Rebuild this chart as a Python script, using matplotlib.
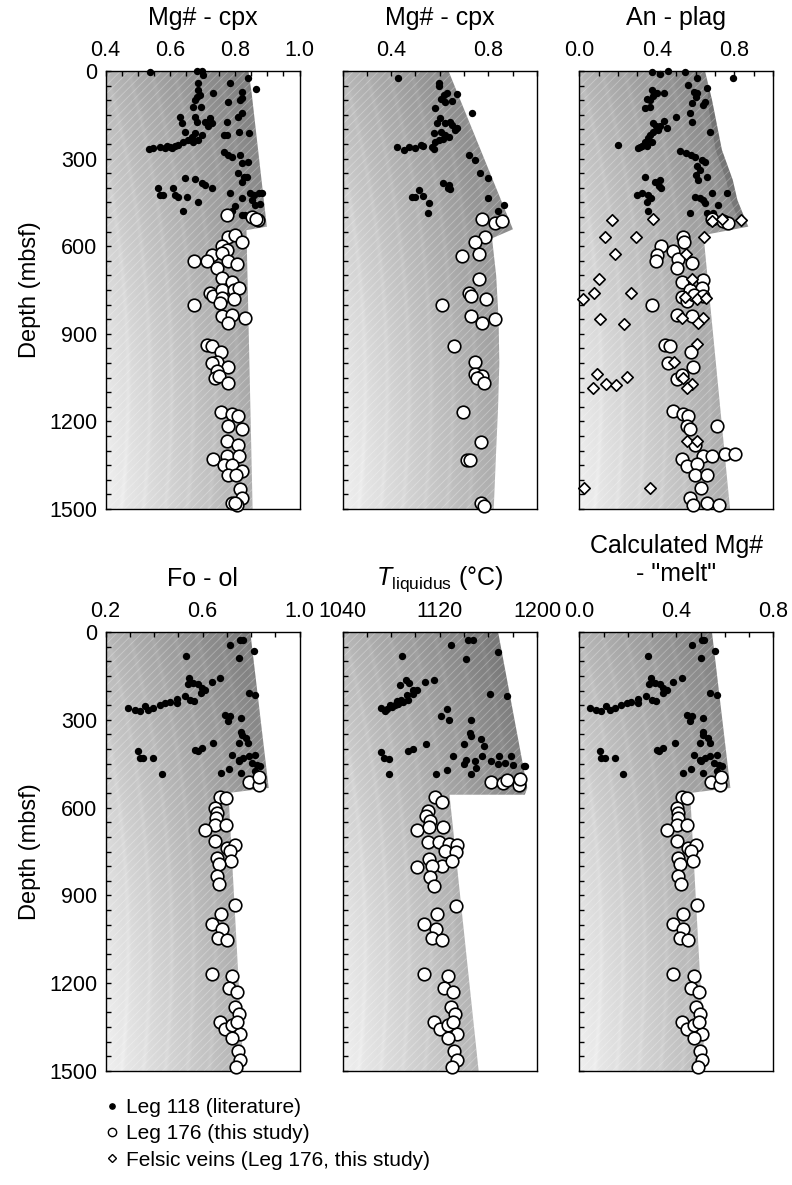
import numpy as np
import matplotlib.pyplot as plt
from matplotlib.patches import Polygon
from matplotlib.lines import Line2D
from matplotlib.ticker import FixedLocator, MultipleLocator

plt.rcParams['font.family'] = ['Liberation Sans', 'DejaVu Sans']
plt.rcParams['mathtext.fontset'] = 'custom'
plt.rcParams['mathtext.rm'] = 'Liberation Sans'
plt.rcParams['mathtext.it'] = 'Liberation Sans:italic'
plt.rcParams['hatch.linewidth'] = 0.6

# ---- data: (value, depth in mbsf) ----
depth_ticks = [0, 300, 600, 900, 1200, 1500]

# Mg# cpx, panel 1
cpx1_leg118 = [(0.537,5),(0.682,0),(0.697,0),(0.703,14),(0.840,25),(0.867,63),(0.785,40),(0.687,42),(0.687,65),
               (0.682,88),(0.677,99),(0.692,82),(0.671,122),(0.695,122),(0.734,76),(0.822,71),(0.822,94),(0.817,99),
               (0.780,107),(0.822,145),(0.811,159),(0.630,159),(0.637,179),(0.677,156),(0.682,173),(0.708,173),
               (0.723,162),(0.728,179),(0.718,190),(0.775,173),(0.813,208),(0.845,213),(0.765,218),(0.775,219),
               (0.646,208),(0.666,225),(0.677,213),(0.697,219),(0.687,236),(0.671,242),(0.656,236),(0.640,242),
               (0.625,253),(0.615,257),(0.599,261),(0.583,265),(0.568,261),(0.547,265),(0.534,268),(0.590,258),
               (0.605,262),(0.765,276),(0.780,287),(0.791,293),(0.817,287),(0.842,310),(0.822,316),(0.811,350),
               (0.827,362),(0.837,362),(0.822,379),(0.646,367),(0.677,371),(0.697,384),(0.708,390),(0.728,399),
               (0.563,402),(0.568,424),(0.578,424),(0.609,402),(0.615,424),(0.625,430),(0.651,430),(0.687,447),
               (0.640,481),(0.785,419),(0.848,419),(0.858,424),(0.874,419),(0.884,419),(0.853,441),(0.863,459),
               (0.879,455),(0.822,436),(0.801,464),(0.791,481),(0.822,493),(0.832,493)]
cpx1_leg176 = [(0.775,493),(0.853,499),(0.872,510),(0.865,508),(0.780,567),(0.801,561),(0.822,584),(0.760,601),
               (0.775,613),(0.728,630),(0.760,624),(0.675,652),(0.713,652),(0.744,675),(0.780,652),(0.806,660),
               (0.760,709),(0.791,721),(0.723,761),(0.734,772),(0.760,749),(0.796,749),(0.813,744),(0.760,778),
               (0.796,781),(0.675,801),(0.755,795),(0.760,838),(0.791,835),(0.830,846),(0.778,864),(0.713,938),
               (0.728,943),(0.758,964),(0.744,995),(0.778,1012),(0.728,1000),(0.744,1029),(0.739,1052),
               (0.751,1046),(0.778,1067),(0.758,1168),(0.791,1174),(0.809,1183),(0.780,1217),(0.822,1226),
               (0.775,1268),(0.809,1280),(0.734,1329),(0.775,1320),(0.813,1317),(0.765,1348),(0.791,1348),
               (0.822,1371),(0.780,1383),(0.803,1383),(0.817,1432),(0.822,1462),(0.791,1479),(0.806,1485),
               (0.801,1479)]
cpx1_field = [(0.842,0),(0.852,76),(0.899,533),(0.836,545),(0.855,1500)]

# Mg# cpx, panel 2
cpx2_leg118 = [(0.428,25),(0.595,42),(0.598,51),(0.616,82),(0.606,97),(0.630,76),(0.650,102),(0.671,80),
               (0.623,105),(0.732,145),(0.581,128),(0.599,162),(0.588,179),(0.623,177),(0.643,173),(0.650,185),
               (0.664,202),(0.671,196),(0.575,211),(0.606,208),(0.623,219),(0.636,225),(0.595,236),(0.581,242),
               (0.568,259),(0.575,268),(0.612,234),(0.424,261),(0.451,270),(0.472,261),(0.499,265),(0.524,253),
               (0.533,257),(0.719,287),(0.743,305),(0.767,350),(0.798,367),(0.612,382),(0.636,390),(0.643,405),
               (0.634,402),(0.516,407),(0.485,430),(0.499,432),(0.533,428),(0.554,451),(0.551,485),(0.798,436),
               (0.863,459),(0.839,478)]
cpx2_leg176 = [(0.774,508),(0.826,521),(0.856,513),(0.785,569),(0.743,585),(0.691,633),(0.763,627),(0.763,713),
               (0.719,761),(0.730,772),(0.790,781),(0.609,803),(0.730,838),(0.774,864),(0.828,850),(0.658,941),
               (0.746,997),(0.743,1037),(0.774,1044),(0.753,1052),(0.780,1069),(0.694,1169),(0.769,1272),
               (0.712,1333),(0.726,1333),(0.769,1479),(0.780,1489)]
cpx2_field = [(0.636,0),(0.901,542),(0.815,573),(0.832,700),(0.842,850),(0.845,1000),(0.840,1150),
              (0.832,1300),(0.822,1500)]

# An plag
an_leg118 = [(0.373,5),(0.416,10),(0.455,0),(0.545,5),(0.794,25),(0.605,25),(0.562,48),(0.656,59),(0.591,71),
             (0.601,88),(0.605,76),(0.648,105),(0.636,116),(0.579,111),(0.570,145),(0.579,173),(0.674,208),
             (0.373,65),(0.378,86),(0.364,99),(0.351,97),(0.390,76),(0.402,74),(0.436,76),(0.338,125),(0.364,122),
             (0.498,159),(0.436,170),(0.381,179),(0.395,190),(0.416,190),(0.454,196),(0.407,202),(0.381,208),
             (0.364,219),(0.356,230),(0.338,242),(0.321,257),(0.304,265),(0.313,261),(0.347,257),(0.373,242),
             (0.198,253),(0.519,273),(0.550,282),(0.574,287),(0.596,293),(0.631,305),(0.648,310),(0.605,327),
             (0.622,339),(0.601,356),(0.656,362),(0.610,373),(0.338,362),(0.390,379),(0.416,373),(0.412,394),
             (0.419,402),(0.296,424),(0.321,419),(0.356,424),(0.368,436),(0.347,447),(0.596,430),(0.622,436),
             (0.639,441),(0.648,453),(0.682,419),(0.763,419),(0.716,459),(0.356,481),(0.570,485),(0.656,487),
             (0.691,487)]
an_leg176 = [(0.682,508),(0.742,513),(0.768,521),(0.536,567),(0.541,584),(0.419,601),(0.481,615),(0.402,630),
             (0.395,650),(0.510,644),(0.579,658),(0.502,675),(0.527,724),(0.639,715),(0.631,744),(0.570,749),
             (0.527,775),(0.553,789),(0.591,767),(0.639,772),(0.373,801),(0.502,835),(0.579,838),(0.441,938),
             (0.467,941),(0.574,964),(0.457,1000),(0.588,1012),(0.502,1055),(0.527,1040),(0.485,1166),
             (0.536,1174),(0.562,1183),(0.557,1215),(0.570,1226),(0.708,1217),(0.596,1280),(0.639,1317),
             (0.682,1317),(0.751,1311),(0.802,1311),(0.527,1329),(0.557,1354),(0.608,1345),(0.596,1383),
             (0.656,1383),(0.625,1428),(0.570,1462),(0.588,1485),(0.660,1479),(0.722,1485)]
an_veins = [(0.167,510),(0.378,508),(0.132,569),(0.292,569),(0.643,569),(0.184,627),(0.550,627),(0.103,713),
            (0.076,761),(0.265,761),(0.021,781),(0.579,713),(0.545,775),(0.605,781),(0.653,779),(0.107,850),
            (0.230,866),(0.527,846),(0.639,846),(0.613,864),(0.605,934),(0.488,998),(0.089,1037),(0.247,1048),
            (0.137,1071),(0.189,1075),(0.069,1086),(0.533,1052),(0.579,1071),(0.553,1086),(0.553,1268),
            (0.608,1268),(0.024,1428),(0.364,1428),(0.682,512),(0.734,508),(0.832,510)]
an_field = [(0.648,0),(0.684,99),(0.735,270),(0.791,373),(0.815,442),(0.871,533),(0.640,562),(0.777,1500)]
an_band = [(0.670,60),(0.684,99),(0.735,270),(0.791,373),(0.815,442),(0.850,500),
           (0.815,500),(0.780,442),(0.757,373),(0.703,270),(0.660,99)]

# Fo ol
fo_leg118 = [(0.714,43),(0.755,26),(0.765,26),(0.811,66),(0.751,89),(0.534,83),(0.544,157),(0.539,178),
             (0.562,174),(0.583,178),(0.597,191),(0.610,197),(0.594,209),(0.638,171),(0.673,157),(0.790,209),
             (0.818,214),(0.293,258),(0.320,266),(0.341,271),(0.362,254),(0.375,266),(0.396,258),(0.424,248),
             (0.445,243),(0.465,239),(0.493,228),(0.527,217),(0.548,231),(0.566,235),(0.493,243),(0.693,283),
             (0.707,303),(0.714,288),(0.760,294),(0.760,340),(0.762,351),(0.779,362),(0.749,380),(0.787,380),
             (0.645,380),(0.569,402),(0.597,397),(0.580,406),(0.334,406),(0.341,431),(0.355,429),(0.396,431),
             (0.431,484),(0.721,419),(0.749,437),(0.769,431),(0.790,425),(0.818,419),(0.751,442),(0.804,448),
             (0.825,454),(0.838,459),(0.677,482),(0.710,468),(0.760,482),(0.818,476)]
fo_leg176 = [(0.793,511),(0.831,522),(0.834,497),(0.673,565),(0.696,568),(0.652,602),(0.659,619),(0.655,636),
             (0.652,661),(0.696,661),(0.610,676),(0.652,713),(0.700,739),(0.732,727),(0.714,748),(0.659,773),
             (0.718,784),(0.667,793),(0.659,835),(0.669,862),(0.735,932),(0.677,962),(0.638,997),(0.679,1014),
             (0.665,1046),(0.700,1052),(0.638,1169),(0.721,1174),(0.710,1215),(0.742,1229),(0.732,1280),
             (0.749,1306),(0.673,1331),(0.693,1356),(0.721,1343),(0.756,1375),(0.721,1386),(0.746,1432),
             (0.756,1462),(0.738,1485),(0.742,1331)]
fo_field = [(0.797,0),(0.873,533),(0.707,550),(0.769,1500)]

# T liquidus
tl_leg118 = [(1129,43),(1143.5,28),(1147,28),(1168,70),(1142,92),(1089,83),(1092,163),(1087,180),(1095,174),
             (1098,199),(1101.5,197),(1108,172),(1115,163),(1161,211),(1175,218),(1072,260),(1075,271),
             (1079,248),(1084.5,237),(1088.5,231),(1094,231),(1098,211),(1093,214),(1077,262),(1081,255),
             (1083,250),(1086,245),(1090,240),(1126,263),(1121,288),(1127.5,302),(1146,300),(1145,345),
             (1146,357),(1154,366),(1156,391),(1140,382),(1109,382),(1094,405),(1098,400),(1072,410),(1074,431),
             (1078,434),(1131,423),(1141.5,437),(1140,450),(1149,442),(1154.5,425),(1162,442),(1169,425),
             (1174,448),(1179,425),(1180,454),(1189,459),(1190,459),(1078,484),(1117,486),(1126,473),(1146,486),
             (1149.5,465),(1168,450)]
tl_leg176 = [(1162,514),(1172,516),(1175,505),(1185,522),(1186,503),(1116,564),(1121.5,582),(1110.5,610),
             (1109,630),(1112,647),(1101.5,676),(1111,665),(1123,665),(1110,716),(1119,719),(1128,725),(1134,728),
             (1124,747),(1133,750),(1111,776),(1122,798),(1130,784),(1101,804),(1114,799),(1112,838),(1115,867),
             (1118,963),(1133,935),(1107.3,997),(1116.7,1014),(1113.5,1046),(1121.5,1052),(1107.3,1169),
             (1126.4,1174),(1123.8,1215),(1131.2,1229),(1128.9,1280),(1132.8,1306),(1115.3,1331),(1119.9,1356),
             (1126.4,1343),(1134.4,1375),(1126.4,1386),(1132.1,1432),(1134.4,1462),(1130.3,1485),(1131.2,1331)]
tl_field = [(1168,0),(1192,533),(1190,556),(1128,556),(1152,1500)]

# calculated melt Mg#
melt_leg118 = [(0.464,43),(0.505,26),(0.515,26),(0.561,66),(0.501,89),(0.284,83),(0.294,157),(0.289,178),
               (0.312,174),(0.333,178),(0.347,191),(0.360,197),(0.344,209),(0.388,171),(0.423,157),(0.540,209),
               (0.568,214),(0.043,258),(0.070,266),(0.091,271),(0.112,254),(0.125,266),(0.146,258),(0.174,248),
               (0.195,243),(0.215,239),(0.243,228),(0.277,217),(0.298,231),(0.316,235),(0.243,243),(0.443,283),
               (0.457,303),(0.464,288),(0.510,294),(0.510,340),(0.512,351),(0.529,362),(0.499,380),(0.537,380),
               (0.395,380),(0.319,402),(0.347,397),(0.330,406),(0.084,406),(0.091,431),(0.105,429),(0.146,431),
               (0.181,484),(0.471,419),(0.499,437),(0.519,431),(0.540,425),(0.568,419),(0.501,442),(0.554,448),
               (0.575,454),(0.588,459),(0.427,482),(0.460,468),(0.510,482),(0.568,476)]
melt_leg176 = [(0.543,511),(0.581,522),(0.584,497),(0.423,565),(0.446,568),(0.402,602),(0.409,619),(0.405,636),
               (0.402,661),(0.446,661),(0.360,676),(0.402,713),(0.450,739),(0.482,727),(0.461,748),(0.409,773),
               (0.468,784),(0.417,793),(0.409,835),(0.419,862),(0.485,932),(0.427,962),(0.388,997),(0.429,1014),
               (0.415,1046),(0.450,1052),(0.388,1169),(0.471,1174),(0.460,1215),(0.492,1229),(0.482,1280),
               (0.499,1306),(0.423,1331),(0.443,1356),(0.471,1343),(0.506,1375),(0.471,1386),(0.496,1432),
               (0.506,1462),(0.488,1485),(0.492,1331)]
melt_field = [(0.547,0),(0.623,533),(0.457,550),(0.519,1500)]

# ---- layout (pixel boxes: left, top, right, bottom) ----
W, H = 792, 1185
fig = plt.figure(figsize=(W / 100, H / 100), dpi=100)


def add_panel(l, t, r, b):
    return fig.add_axes([l / W, 1 - b / H, (r - l) / W, (b - t) / H])


def shade(ax, field, band=None):
    x0, x1 = ax.get_xlim()
    verts = [(x0, 0)] + field + [(x0, 1500)]
    clip = Polygon(verts, closed=True, facecolor='none', edgecolor='none')
    ax.add_patch(clip)
    u = np.linspace(0, 1, 240)[None, :]
    v = np.linspace(0, 1, 520)[:, None]
    r = np.hypot(u * 195 + 1100, (v - 0.72) * 438) - 1100
    b = 0.95 - 0.33 * r / 195 - 0.16 * (1 - v)
    b = b + 0.025 * np.cos(np.pi * r / 22) ** 20
    img = ax.imshow(b, cmap='gray', vmin=0, vmax=1, extent=(x0, x1, 1500, 0),
                    aspect='auto', interpolation='bilinear', zorder=0.5)
    img.set_clip_path(clip)
    if band is not None:
        ax.add_patch(Polygon(band, closed=True, facecolor='black', alpha=0.15, lw=0, zorder=0.55))
    ax.add_patch(Polygon(verts, closed=True, facecolor='none', edgecolor=(1, 1, 1, 0.30),
                         lw=0, hatch='////', zorder=0.6))


def style(ax, xlim, major, minor, labels_y):
    ax.set_xlim(*xlim)
    ax.set_ylim(1500, 0)
    ax.xaxis.tick_top()
    ax.xaxis.set_major_locator(FixedLocator(major))
    ax.xaxis.set_minor_locator(MultipleLocator(minor))
    ax.yaxis.set_major_locator(FixedLocator(depth_ticks))
    ax.yaxis.set_minor_locator(MultipleLocator(50))
    ax.tick_params(axis='x', which='both', direction='in', top=True, bottom=False,
                   length=3.5, width=1, labelsize=15.5, pad=7)
    ax.tick_params(axis='y', which='both', direction='in', left=True, right=False,
                   length=3.5, width=1, labelsize=15.5, pad=6, labelleft=labels_y)
    for s in ax.spines.values():
        s.set_linewidth(1.0)


def plot_points(ax, dots, circles, diamonds=None):
    x, d = np.array(dots).T
    ax.scatter(x, d, s=28, c='black', lw=0, zorder=3, clip_on=False)
    x, d = np.array(circles).T
    ax.scatter(x, d, s=82, facecolors='white', edgecolors='black', lw=1.2, zorder=4, clip_on=False)
    if diamonds is not None:
        x, d = np.array(diamonds).T
        ax.scatter(x, d, s=34, marker='D', facecolors='white', edgecolors='black', lw=1.2,
                   zorder=5, clip_on=False)


cols = [(105.5, 299.5), (342.5, 537), (579.3, 773.3)]
rows = [(71, 509), (632, 1071)]

panels = [
    ((0.4, 1.0), [0.4, 0.6, 0.8, 1.0], 0.05, 'Mg# - cpx', cpx1_field, None, cpx1_leg118, cpx1_leg176, None),
    ((0.2, 1.0), [0.4, 0.8], 0.1, 'Mg# - cpx', cpx2_field, None, cpx2_leg118, cpx2_leg176, None),
    ((0.0, 1.0), [0.0, 0.4, 0.8], 0.1, 'An - plag', an_field, an_band, an_leg118, an_leg176, an_veins),
    ((0.2, 1.0), [0.2, 0.6, 1.0], 0.1, 'Fo - ol', fo_field, None, fo_leg118, fo_leg176, None),
    ((1040, 1200), [1040, 1120, 1200], 20, r'$T_{\mathrm{liquidus}}$ ($\degree$C)', tl_field, None,
     tl_leg118, tl_leg176, None),
    ((0.0, 0.8), [0.0, 0.4, 0.8], 0.1, 'Calculated Mg#\n- "melt"', melt_field, None,
     melt_leg118, melt_leg176, None),
]

for i, (xlim, major, minor, title, field, band, dots, circles, diamonds) in enumerate(panels):
    t, b = rows[i // 3]
    l, r = cols[i % 3]
    ax = add_panel(l, t, r, b)
    style(ax, xlim, major, minor, i % 3 == 0)
    shade(ax, field, band)
    plot_points(ax, dots, circles, diamonds)
    ax.set_xlim(*xlim)
    ax.set_ylim(1500, 0)
    yoff = 72 if '\n' in title else 53
    ax.text(0.5, 1 + yoff / (b - t), title, transform=ax.transAxes, ha='center', va='center', fontsize=18)

for t, b in rows:
    fig.text(30 / W, 1 - (t + b) / 2 / H, 'Depth (mbsf)', rotation=90, ha='center', va='center', fontsize=17)

handles = [
    Line2D([], [], ls='', marker='o', ms=3.8, mfc='black', mec='black'),
    Line2D([], [], ls='', marker='o', ms=6, mfc='white', mec='black', mew=1),
    Line2D([], [], ls='', marker='D', ms=4.5, mfc='white', mec='black', mew=1),
]
fig.legend(handles, ['Leg 118 (literature)', 'Leg 176 (this study)', 'Felsic veins (Leg 176, this study)'],
           loc='upper left', bbox_to_anchor=(106 / W, 1 - 1098 / H), frameon=False, fontsize=15,
           handlelength=0.6, handletextpad=0.35, labelspacing=0.35, borderpad=0, borderaxespad=0)

fig.savefig('out.png', dpi=100)
